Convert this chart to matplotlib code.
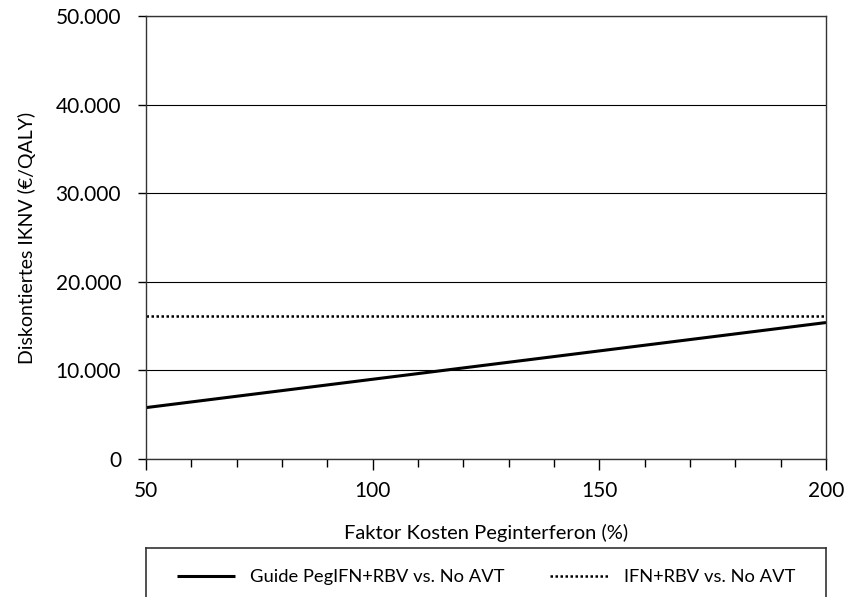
import matplotlib
matplotlib.use('Agg')
import matplotlib.pyplot as plt
from matplotlib.lines import Line2D
from matplotlib.ticker import MultipleLocator, FuncFormatter

plt.rcParams['font.family'] = ['Lato', 'DejaVu Sans']

# data
faktor = [50, 100, 150, 200]
guide_peg = [5800, 9000, 12200, 15400]
ifn_rbv = [16100, 16100, 16100, 16100]
labels = ['Guide PegIFN+RBV vs. No AVT', 'IFN+RBV vs. No AVT']

fig = plt.figure(figsize=(8.46, 5.97), dpi=100)
ax = fig.add_axes([146/846, 1 - 459/597, 680/846, 443/597])

l1, = ax.plot(faktor, guide_peg, color='black', linewidth=2.2, solid_capstyle='butt')
l2, = ax.plot(faktor, ifn_rbv, color='black', linewidth=1.8, linestyle=(0, (1, 1)))

ax.set_xlim(50, 200)
ax.set_ylim(0, 50000)
ax.xaxis.set_major_locator(MultipleLocator(50))
ax.xaxis.set_minor_locator(MultipleLocator(10))
ax.yaxis.set_major_locator(MultipleLocator(10000))
ax.yaxis.set_major_formatter(FuncFormatter(lambda v, p: f'{int(v):,}'.replace(',', '.')))
ax.grid(axis='y', color='black', linewidth=0.8)
ax.set_axisbelow(True)

for s in ax.spines.values():
    s.set_color('#333333')
    s.set_linewidth(1.0)

ax.tick_params(axis='x', which='major', direction='out', length=8, width=1, labelsize=15, pad=8)
ax.tick_params(axis='x', which='minor', direction='out', length=6, width=1)
ax.tick_params(axis='y', which='major', direction='out', length=6, width=1, labelsize=15, pad=12)

ax.set_xlabel('Faktor Kosten Peginterferon (%)', fontsize=14.5, labelpad=16)
ax.set_ylabel('Diskontiertes IKNV (€/QALY)', fontsize=14, labelpad=14)

# legend box, cut off at bottom like the reference
x0, x1 = 146/846, 826/846
ytop = (597 - 548)/597
for xs, ys in [([x0, x1], [ytop, ytop]), ([x0, x0], [ytop, 0]), ([x1, x1], [ytop, 0])]:
    fig.add_artist(Line2D(xs, ys, color='#333333', linewidth=1.2,
                          transform=fig.transFigure, zorder=5))

fig.legend([l1, l2], labels, loc='center', bbox_to_anchor=(486/846, 1 - 577/597),
           ncol=2, frameon=False, fontsize=13.2, handlelength=3.2, columnspacing=2.5)

plt.savefig('out.png', dpi=100)
